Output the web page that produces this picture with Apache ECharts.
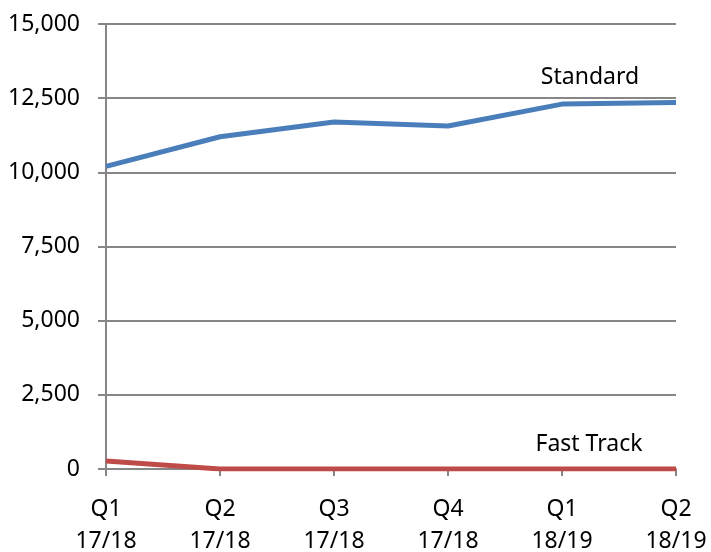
<!DOCTYPE html>
<html><head><meta charset="utf-8">
<script src="https://cdn.jsdelivr.net/npm/echarts@6/dist/echarts.min.js"></script>
<style>html,body{margin:0;padding:0;background:#fff}#c{width:711px;height:552px}</style>
</head><body><div id="c"></div>
<script>
const categories = ['Q1\n17/18','Q2\n17/18','Q3\n17/18','Q4\n17/18','Q1\n18/19','Q2\n18/19'];
const standard = [10200, 11200, 11700, 11560, 12300, 12350];
const fastTrack = [270, 0, 0, 0, 0, 0];
const yTicks = [0, 2500, 5000, 7500, 10000, 12500, 15000];
const FONT = 'Noto Sans';
const chart = echarts.init(document.getElementById('c'), null, {renderer:'canvas'});
function labeled(vals, idx) {
  return vals.map((v, i) => i === idx ? {value: v, label: {show: true}} : v);
}
chart.setOption({
  animation: false,
  backgroundColor: '#fff',
  grid: {left: 106, right: 35, top: 24, bottom: 83, containLabel: false, outerBoundsMode: 'none'},
  xAxis: {
    type: 'category', data: categories, boundaryGap: false,
    axisLine: {lineStyle: {color: '#868686', width: 2}},
    axisTick: {show: true, length: 7, alignWithLabel: true, lineStyle: {color: '#868686', width: 2}},
    axisLabel: {color: '#000', fontFamily: FONT, fontSize: 23, lineHeight: 32, margin: 24, interval: 0}
  },
  yAxis: {
    type: 'value', min: yTicks[0], max: yTicks[yTicks.length-1], interval: 2500,
    axisLine: {show: true, lineStyle: {color: '#868686', width: 2}},
    axisTick: {show: true, length: 8, lineStyle: {color: '#868686', width: 2}},
    splitLine: {lineStyle: {color: '#868686', width: 2}},
    axisLabel: {color: '#000', fontFamily: FONT, fontSize: 23, margin: 26,
      formatter: v => v.toLocaleString('en-US')}
  },
  series: [
    {name: 'Standard', type: 'line', data: labeled(standard, 4), symbol: 'circle', symbolSize: 0, showSymbol: true,
     lineStyle: {color: '#4A7EBB', width: 5}, itemStyle: {color: '#4A7EBB'},
     label: {show: false, formatter: '{a}', position: 'top', offset: [28, -10], color: '#000', fontFamily: FONT, fontSize: 23}},
    {name: 'Fast Track', type: 'line', data: labeled(fastTrack, 4), symbol: 'circle', symbolSize: 0, showSymbol: true,
     lineStyle: {color: '#BE4B48', width: 5}, itemStyle: {color: '#BE4B48'},
     label: {show: false, formatter: '{a}', position: 'top', offset: [27, -8], color: '#000', fontFamily: FONT, fontSize: 23}}
  ]
});
</script></body></html>
